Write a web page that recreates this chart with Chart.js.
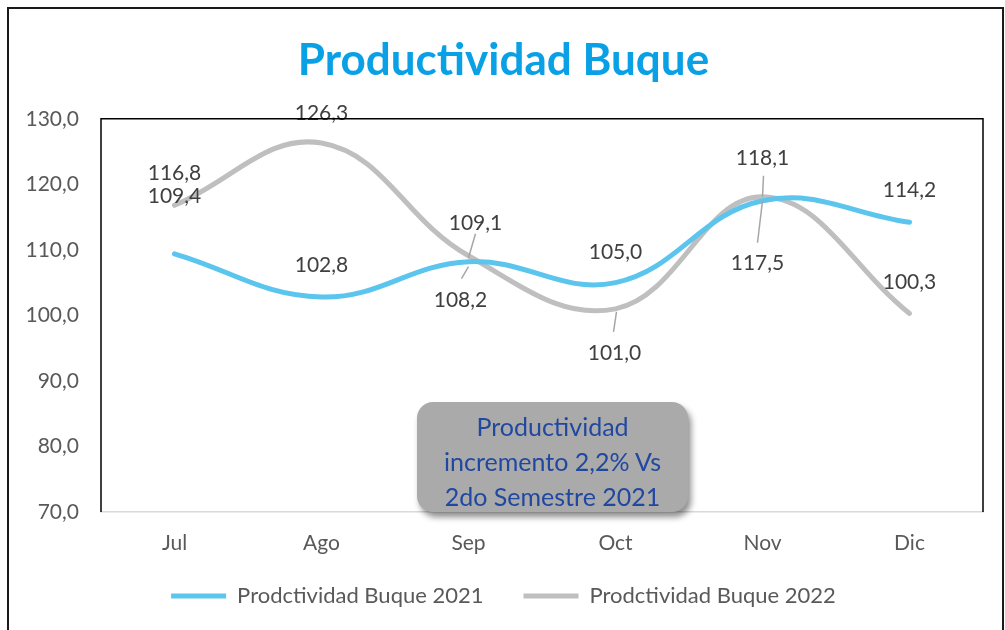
<!DOCTYPE html>
<html>
<head>
<meta charset="utf-8">
<script src="https://cdn.jsdelivr.net/npm/chart.js@4"></script>
<style>
	body { margin: 0; background: #fff; }
	#wrap { position: relative; width: 1005px; height: 630px; overflow: hidden; }
	#frame {
		position: absolute; left: 7px; top: 7px; width: 993px; height: 640px;
		border: 2px solid #1a1a1a; pointer-events: none;
	}
	#note {
		position: absolute; left: 417px; top: 402px; width: 271px; height: 110px;
		background: #aaaaaa; border-radius: 16px;
		box-shadow: 3px 5px 6px rgba(0, 0, 0, 0.45);
		font-family: Lato, "Open Sans", sans-serif; font-size: 25px; line-height: 35px;
		color: #2148a0; text-align: center; padding-top: 7px; box-sizing: border-box;
	}
</style>
</head>
<body>
<div id="wrap">
	<canvas id="chart" width="1005" height="630"></canvas>
	<div id="frame"></div>
	<div id="note">Productividad<br>incremento 2,2% Vs<br>2do Semestre 2021</div>
</div>
<script>
// Data
const months = ["Jul", "Ago", "Sep", "Oct", "Nov", "Dic"];
const buque2021 = [109.4, 102.8, 108.2, 105.0, 117.5, 114.2];
const buque2022 = [116.8, 126.3, 109.1, 101.0, 118.1, 100.3];
const yTicks = [70, 80, 90, 100, 110, 120, 130];

// where each value label sits relative to its point (dx, dy)
const offsets2021 = [[0, -58], [0, -32], [-8, 39], [0, -30], [-5, 63], [0, -32]];
const offsets2022 = [[0, -32], [0, -30], [7, -33], [-1, 44], [0, -39], [0, -31]];
// leader lines, relative to the point
const leaders2021 = { 2: [[0, 5], [-7, 17]], 4: [[0, 0], [-5, 42]] };
const leaders2022 = { 2: [[7, -22], [0, 2]], 3: [[1, 3], [-2, 23]], 4: [[1, -21], [0, 0]] };

const fontFamily = "Lato, 'Open Sans', sans-serif";
const fmt = (v) => v.toFixed(1).replace(".", ",");

// legend height fixed so the plot keeps its size, then nudged up a bit
const legendHeight = {
	id: "legendHeight",
	afterInit(chart) {
		const fit = chart.legend.fit;
		chart.legend.fit = function () {
			fit.bind(chart.legend)();
			this.height = 74;
		};
	},
	afterLayout(chart) {
		chart.legend.top -= 11;
		chart.legend.bottom -= 11;
	},
};

// plot border (top, left, right in black)
const plotBorder = {
	id: "plotBorder",
	afterDraw(chart) {
		const a = chart.chartArea;
		const ctx = chart.ctx;
		ctx.save();
		ctx.strokeStyle = "#000";
		ctx.lineWidth = 1.5;
		ctx.beginPath();
		ctx.moveTo(a.left, a.bottom);
		ctx.lineTo(a.left, a.top);
		ctx.lineTo(a.right, a.top);
		ctx.lineTo(a.right, a.bottom);
		ctx.stroke();
		ctx.restore();
	},
};

// value labels
const valueLabels = {
	id: "valueLabels",
	afterDatasetsDraw(chart) {
		const ctx = chart.ctx;
		const sets = [
			{ offs: offsets2021, leaders: leaders2021 },
			{ offs: offsets2022, leaders: leaders2022 },
		];
		ctx.save();
		sets.forEach((s, di) => {
			const meta = chart.getDatasetMeta(di);
			const values = chart.data.datasets[di].data;
			meta.data.forEach((pt, i) => {
				const l = s.leaders[i];
				if (l) {
					ctx.strokeStyle = "#a6a6a6";
					ctx.lineWidth = 1.5;
					ctx.beginPath();
					ctx.moveTo(pt.x + l[0][0], pt.y + l[0][1]);
					ctx.lineTo(pt.x + l[1][0], pt.y + l[1][1]);
					ctx.stroke();
				}
				ctx.fillStyle = "#404040";
				ctx.font = "21px " + fontFamily;
				ctx.textAlign = "center";
				ctx.textBaseline = "middle";
				ctx.fillText(fmt(values[i]), pt.x + s.offs[i][0], pt.y + s.offs[i][1]);
			});
		});
		ctx.restore();
	},
};

new Chart(document.getElementById("chart"), {
	type: "line",
	data: {
		labels: months,
		datasets: [
			{
				label: "Prodctividad Buque 2021",
				data: buque2021,
				borderColor: "#5bc5ee",
				backgroundColor: "#5bc5ee",
				borderWidth: 5,
				borderCapStyle: "round",
				tension: 0.4,
				pointRadius: 0,
			},
			{
				label: "Prodctividad Buque 2022",
				data: buque2022,
				borderColor: "#bfbfbf",
				backgroundColor: "#bfbfbf",
				borderWidth: 5,
				borderCapStyle: "round",
				tension: 0.4,
				pointRadius: 0,
			},
		],
	},
	options: {
		responsive: false,
		animation: false,
		layout: { padding: { left: 24, right: 22, top: 0, bottom: 0 } },
		scales: {
			x: {
				offset: true,
				afterFit(axis) {
					axis.height = 44;
				},
				grid: { display: false, drawTicks: false },
				border: { color: "#d9d9d9", width: 1.5 },
				ticks: {
					color: "#595959",
					font: { family: fontFamily, size: 21 },
					padding: 19,
				},
			},
			y: {
				min: 70,
				max: 130,
				afterBuildTicks(axis) {
					axis.ticks = yTicks.map((v) => ({ value: v }));
				},
				afterFit(axis) {
					axis.width = 77;
				},
				grid: { display: false, drawTicks: false },
				border: { display: false },
				ticks: {
					color: "#595959",
					font: { family: fontFamily, size: 21 },
					padding: 22,
					callback: (v) => fmt(v),
				},
			},
		},
		plugins: {
			title: {
				display: true,
				text: "Productividad Buque",
				color: "#0aa0e6",
				font: { family: fontFamily, size: 44, weight: "bold" },
				padding: { top: 34, bottom: 32 },
			},
			legend: {
				position: "bottom",
				labels: {
					usePointStyle: true,
					pointStyle: "line",
					pointStyleWidth: 55,
					color: "#595959",
					font: { family: fontFamily, size: 22 },
					padding: 40,
				},
			},
			tooltip: { enabled: false },
		},
	},
	plugins: [legendHeight, plotBorder, valueLabels],
});
</script>
</body>
</html>
